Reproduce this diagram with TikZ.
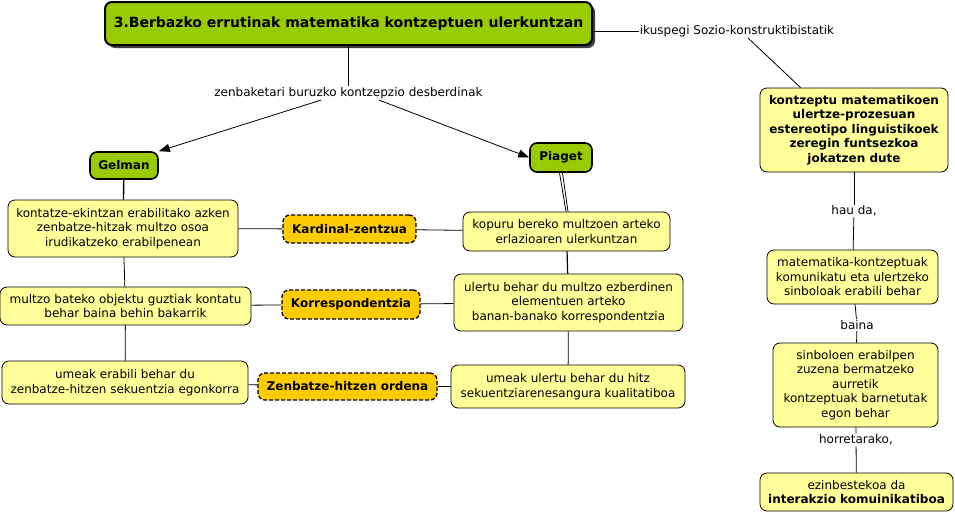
\documentclass[tikz,border=0pt]{standalone}
\usepackage{fontspec}
\setmainfont{DejaVu Sans}
\usetikzlibrary{arrows.meta,shadows}
\definecolor{cgreen}{HTML}{99CC00}
\definecolor{cyellow}{HTML}{FFFF99}
\definecolor{corange}{HTML}{FFCC00}
\tikzset{
  base/.style={rounded corners=7pt, align=center, inner sep=2pt, font=\fontsize{12}{14.5}\selectfont},
  titlebox/.style={base, fill=cgreen, draw=black, line width=2pt, font=\bfseries\fontsize{14}{16}\selectfont,
     drop shadow={shadow xshift=3pt, shadow yshift=-3pt, fill=black!75, opacity=1}},
  personbox/.style={base, fill=cgreen, draw=black, line width=1.6pt, font=\bfseries\fontsize{12}{14.5}\selectfont},
  ybox/.style={base, fill=cyellow, draw=black, line width=0.8pt},
  ybbox/.style={ybox, font=\bfseries\fontsize{12}{14.5}\selectfont},
  obox/.style={base, fill=corange, draw=black, line width=1.3pt, dashed, dash pattern=on 4pt off 2pt, font=\bfseries\fontsize{12}{14.5}\selectfont},
  lbl/.style={fill=white, inner sep=1pt, font=\fontsize{12}{14.5}\selectfont},
  conn/.style={draw=black, line width=0.8pt},
  arr/.style={conn, -{Triangle[length=11pt,width=8pt]}},
}
\begin{document}
\begin{tikzpicture}[x=1pt,y=-1pt]
\useasboundingbox (0,0) rectangle (955,515);
\node[titlebox, minimum width=487pt, minimum height=43pt] (title) at (348.5,23.5) {3.Berbazko errutinak matematika kontzeptuen ulerkuntzan};
\node[lbl] (l1) at (348.5,93) {zenbaketari buruzko kontzepzio desberdinak};
\node[personbox, minimum width=68pt, minimum height=27pt] (gel) at (124,165.5) {Gelman};
\node[personbox, minimum width=62pt, minimum height=29pt] (pia) at (561,157.5) {Piaget};
\node[ybox, minimum width=230pt, minimum height=57pt] (g1) at (123,228.5) {kontatze-ekintzan erabilitako azken\\zenbatze-hitzak multzo osoa\\irudikatzeko erabilpenean};
\node[obox, minimum width=133pt, minimum height=28pt] (k1) at (349.5,229) {Kardinal-zentzua};
\node[ybox, minimum width=207pt, minimum height=39pt] (p1) at (566.5,231.5) {kopuru bereko multzoen arteko\\erlazioaren ulerkuntzan};
\node[ybox, minimum width=251pt, minimum height=38pt] (g2) at (125.5,306) {multzo bateko objektu guztiak kontatu\\behar baina behin bakarrik};
\node[obox, minimum width=138pt, minimum height=29pt] (k2) at (351,304.5) {Korrespondentzia};
\node[ybox, minimum width=229pt, minimum height=57pt] (p2) at (568.5,302.5) {ulertu behar du multzo ezberdinen\\elementuen arteko\\banan-banako korrespondentzia};
\node[ybox, minimum width=246pt, minimum height=43pt] (g3) at (125,382.5) {umeak erabili behar du\\zenbatze-hitzen sekuentzia egonkorra};
\node[obox, minimum width=179pt, minimum height=27pt] (k3) at (347.5,386.5) {Zenbatze-hitzen ordena};
\node[ybox, minimum width=234pt, minimum height=43pt] (p3) at (568,386.5) {umeak ulertu behar du hitz\\sekuentziarenesangura kualitatiboa};
\node[lbl] (l2) at (737,31) {ikuspegi Sozio-konstruktibistatik};
\node[ybbox, minimum width=188pt, minimum height=84pt] (r1) at (854,130) {kontzeptu matematikoen\\ulertze-prozesuan\\estereotipo linguistikoek\\zeregin funtsezkoa\\jokatzen dute};
\node[lbl] (l3) at (854,211) {hau da,};
\node[ybox, minimum width=171pt, minimum height=54pt] (r2) at (852.5,277) {matematika-kontzeptuak\\komunikatu eta ulertzeko\\sinboloak erabili behar};
\node[lbl] (l4) at (857,325) {baina};
\node[ybox, minimum width=165pt, minimum height=84pt] (r3) at (855.5,385) {sinboloen erabilpen\\zuzena bermatzeko\\aurretik\\kontzeptuak barnetutak\\egon behar};
\node[lbl] (l5) at (856,440) {horretarako,};
\node[ybox, minimum width=193pt, minimum height=38pt] (r4) at (856.5,492) {ezinbestekoa da\\\textbf{interakzio komuinikatiboa}};
% connectors
\draw[conn] (title.south -| l1) -- (l1.north);
\draw[arr] ([xshift=108pt]l1.south west) -- (gel.north east);
\draw[arr] ([xshift=-105pt]l1.south east) -- (pia.west);
\draw[conn, line width=1.4pt] (gel) -- (g1);
\draw[conn] (g1) -- (g2);
\draw[conn] (g2) -- (g3);
\draw[conn] ([xshift=-1.5pt]pia.south) -- ([xshift=-0.5pt]p1.north);
\draw[conn] ([xshift=1.5pt]pia.south) -- ([xshift=1.5pt]p1.north);
\draw[conn, line width=1.2pt] (p1) -- (p2);
\draw[conn] (p2) -- (p3);
\draw[conn] (g1) -- (k1); \draw[conn] (k1) -- (p1);
\draw[conn] (g2) -- (k2); \draw[conn] (k2) -- (p2);
\draw[conn] (g3) -- (k3); \draw[conn] (k3) -- (p3);
\draw[conn] (title.east |- l2.west) -- (l2.west);
\draw[conn] ([xshift=11pt]l2.south) -- ([xshift=41pt]r1.north west);
\draw[conn] (r1) -- (l3); \draw[conn] (l3) -- (r2);
\draw[conn] (r2) -- (l4); \draw[conn] (l4) -- (r3);
\draw[conn] (r3) -- (l5); \draw[conn] (l5) -- (r4);
\end{tikzpicture}
\end{document}
